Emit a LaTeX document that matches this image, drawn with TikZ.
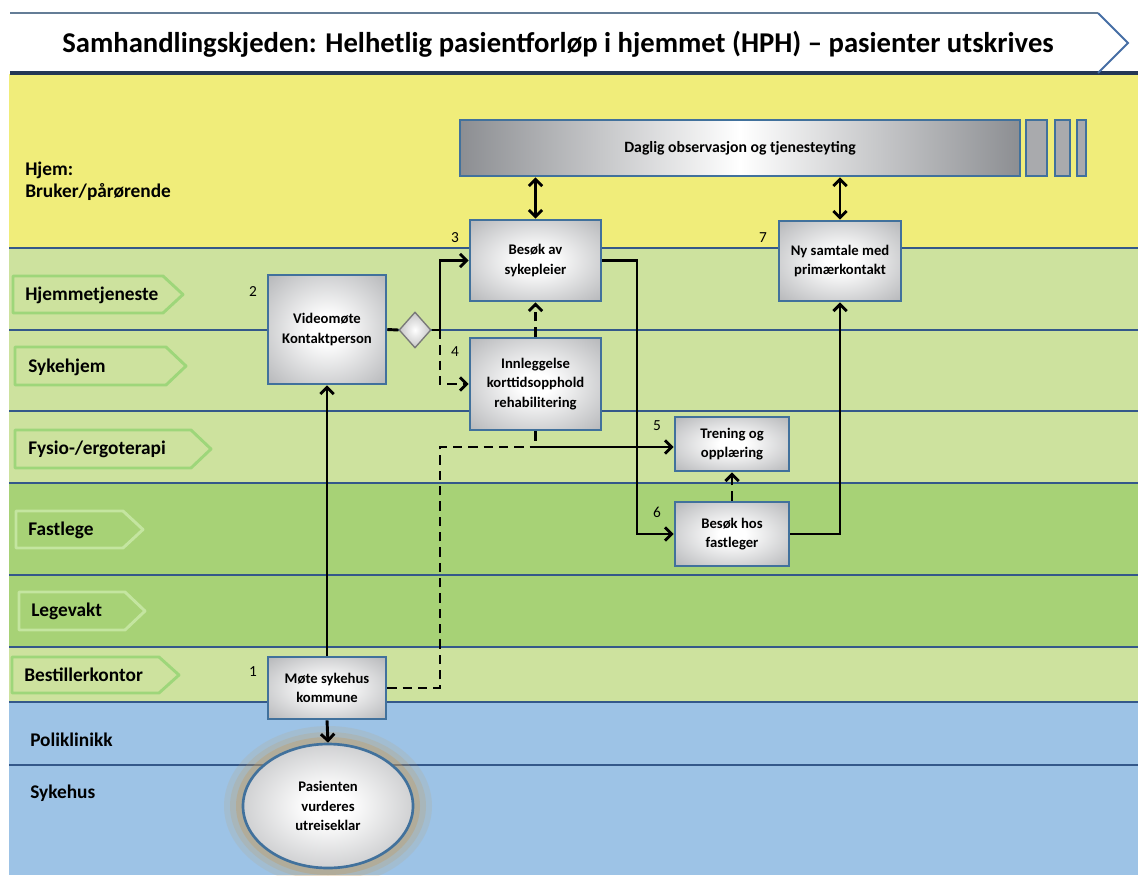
\documentclass[tikz,border=0pt]{standalone}
\usepackage{fontspec}
\setmainfont{Carlito}
\usetikzlibrary{arrows.meta,shapes.geometric}
\newdimen\pxu \pxu=0.75pt
\definecolor{ylane}{RGB}{240,237,122}
\definecolor{lgreen}{RGB}{205,226,158}
\definecolor{dgreen}{RGB}{167,210,118}
\definecolor{blane}{RGB}{157,195,230}
\definecolor{sepline}{RGB}{52,88,138}
\definecolor{boxborder}{RGB}{65,113,156}
\definecolor{boxgray}{RGB}{140,142,146}
\definecolor{chevlight}{RGB}{158,214,122}
\definecolor{chevdark}{RGB}{196,229,160}
\definecolor{glowc}{RGB}{195,155,95}
\definecolor{titleline}{RGB}{100,125,150}
\definecolor{titledark}{RGB}{35,55,85}
\definecolor{titlechev}{RGB}{70,110,165}
\definecolor{diaborder}{RGB}{120,120,120}
\pgfdeclareradialshading{boxshade}{\pgfpoint{0bp}{0bp}}{color(0bp)=(white); color(6bp)=(white); color(50bp)=(boxgray!95); color(72bp)=(boxgray!75!black)}
\tikzset{
  box/.style={draw=boxborder, line width=2pt, shade, shading=boxshade, align=center,
    font=\fontsize{11}{14.5}\selectfont\bfseries, inner sep=2pt},
  conn/.style={line width=2.2pt, -{Straight Barb[length=5pt,width=10pt]}},
  dconn/.style={conn, dash pattern=on 7pt off 4.5pt},
  dline/.style={line width=2.2pt, dash pattern=on 7pt off 4.5pt},
  sline/.style={line width=2.2pt},
  both/.style={line width=2.2pt, {Straight Barb[length=5pt,width=10pt]}-{Straight Barb[length=5pt,width=10pt]}},
  num/.style={font=\fontsize{11.5}{13}\selectfont, inner sep=0},
  lanelbl/.style={anchor=west, font=\fontsize{14.5}{17}\selectfont\bfseries, inner sep=0},
  sep/.style={draw=sepline, line width=2.2pt},
  chevL/.style={draw=chevlight, line width=2.2pt, line join=round},
  chevD/.style={draw=chevdark, line width=2.2pt, line join=round},
}
\newcommand{\chevshape}[5]{\draw[#1] (#2,#3) -- (#4-20,#3) -- (#4,{(#3+#5)/2}) -- (#4-20,#5) -- (#2,#5) -- cycle;}
\begin{document}
\begin{tikzpicture}[x=0.75pt,y=-0.75pt]
\fill[white] (0,0) rectangle (1138,875);
\useasboundingbox (0,0) rectangle (1138,875);
% title
\draw[titleline, line width=1.2pt] (10,13) -- (1098,13);
\fill[ylane] (9,74) rectangle (1138,248);
\draw[titledark, line width=2.4pt] (10,73) -- (1138,73);
\draw[titlechev, line width=1.4pt] (1098,13) -- (1128,43) -- (1098,73);
\node[font=\fontsize{21.5}{25}\selectfont\bfseries] (title) at (558,44) {Samhandlingskjeden: Helhetlig pasientforløp i hjemmet (HPH) – pasienter utskrives};
% lanes
\fill[lgreen] (9,248) rectangle (1138,483);
\fill[dgreen] (9,483) rectangle (1138,647);
\fill[lgreen] (9,647) rectangle (1138,702);
\fill[blane] (9,702) rectangle (1138,875);
\foreach \yy in {248,330,411,483,575,647,702,765} {\draw[sep] (9,\yy) -- (1138,\yy);}
% lane labels
\node[lanelbl] (lhjem) at (25,170) {Hjem:};
\node[lanelbl] (lbruk) at (25,192) {Bruker/pårørende};
\chevshape{chevL}{13}{276}{183}{313}
\node[lanelbl] (lhjt) at (25,295) {Hjemmetjeneste};
\chevshape{chevL}{15}{347}{186}{385}
\node[lanelbl] (lsyk) at (28,367) {Sykehjem};
\chevshape{chevL}{15}{430}{211}{468}
\node[lanelbl] (lfys) at (28,449) {Fysio-/ergoterapi};
\chevshape{chevD}{16}{511}{143}{548}
\node[lanelbl] (lfas) at (28,530) {Fastlege};
\chevshape{chevD}{19}{592}{145}{630}
\node[lanelbl] (lleg) at (31,611) {Legevakt};
\chevshape{chevL}{12}{657}{179}{693}
\node[lanelbl] (lbes) at (24,675) {Bestillerkontor};
\node[lanelbl] (lpol) at (30,740) {Poliklinikk};
\node[lanelbl] (lsyh) at (30,793) {Sykehus};
% glow
\fill[glowc, opacity=0.15] (328,806) ellipse [x radius=104, y radius=80];
\fill[glowc, opacity=0.2] (328,806) ellipse [x radius=98, y radius=74];
\fill[glowc, opacity=0.35] (328,806) ellipse [x radius=92, y radius=69];
% boxes
\node[draw=boxborder, line width=2pt, left color=boxgray, right color=boxgray, middle color=white,
  minimum width=560\pxu, minimum height=56\pxu, inner sep=0, font=\fontsize{11.8}{14}\selectfont\bfseries] (dag) at (740,148) {Daglig observasjon og tjenesteyting};
\node[draw=boxborder, line width=2pt, fill=boxgray!75, minimum width=21\pxu, minimum height=56\pxu, inner sep=0] (sb1) at (1036.5,148) {};
\node[draw=boxborder, line width=2pt, fill=boxgray!75, minimum width=15\pxu, minimum height=56\pxu, inner sep=0] (sb2) at (1062.5,148) {};
\node[draw=boxborder, line width=2pt, fill=boxgray!75, minimum width=9\pxu, minimum height=56\pxu, inner sep=0] (sb3) at (1081.5,148) {};
\node[box, minimum width=131\pxu, minimum height=81\pxu] (b3) at (535.5,260.5) {Besøk av\\sykepleier};
\node[box, minimum width=122\pxu, minimum height=80\pxu] (b7) at (840,261) {Ny samtale med\\primærkontakt};
\node[box, minimum width=118\pxu, minimum height=109\pxu] (b2) at (327,329.5) {Videomøte\\Kontaktperson};
\node[box, minimum width=131\pxu, minimum height=92\pxu] (b4) at (535.5,384) {Innleggelse\\korttidsopphold\\rehabilitering};
\node[box, minimum width=114\pxu, minimum height=54\pxu] (b5) at (732,444) {Trening og\\opplæring};
\node[box, minimum width=114\pxu, minimum height=64\pxu] (b6) at (732,534) {Besøk hos\\fastleger};
\node[box, minimum width=118\pxu, minimum height=62\pxu] (b1) at (327,688) {Møte sykehus\\kommune};
\node[box, ellipse, minimum width=170\pxu, minimum height=124\pxu, inner sep=0] (ell) at (328,806) {Pasienten\\vurderes\\utreiseklar};
\node[diamond, draw=diaborder, line width=1pt, inner color=white, outer color=gray!45, minimum width=32\pxu, minimum height=36\pxu, inner sep=0] (dia) at (415,330) {};
% numbers
\node[num] (n1) at (253,672) {1};
\node[num] (n2) at (253,292) {2};
\node[num] (n3) at (455,238) {3};
\node[num] (n4) at (455,352) {4};
\node[num] (n5) at (657,426) {5};
\node[num] (n6) at (657,512) {6};
\node[num] (n7) at (763,238) {7};
% connectors
\coordinate (split) at (440,330);
\coordinate (vx) at (637,400);
\coordinate (dj) at (440,447);
\coordinate (jn) at (535.5,447);
\draw[conn] (b1.north) -- (b2.south);
\draw[conn] (b1.south) -- (ell.north);
\draw[sline] (b2.east) -- (dia.west);
\draw[sline] (dia.east) -- (split);
\draw[conn] (split) |- (b3.west);
\draw[dconn] (split) |- (b4.west);
\draw[dconn] (b4.north) -- (b3.south);
\draw[both] (b3.north) -- (b3.north |- dag.south);
\draw[both] (b7.north) -- (b7.north |- dag.south);
\draw[conn] (b3.east) -| (vx) |- (b6.west);
\draw[dconn] (b6.north) -- (b5.south);
\draw[conn] (b6.east) -| (b7.south);
\draw[dline] (b1.east) -| (dj) -- (jn);
\draw[dline] (b4.south) -- (jn);
\draw[conn] (jn) -- (b5.west |- jn);
\end{tikzpicture}
\end{document}
